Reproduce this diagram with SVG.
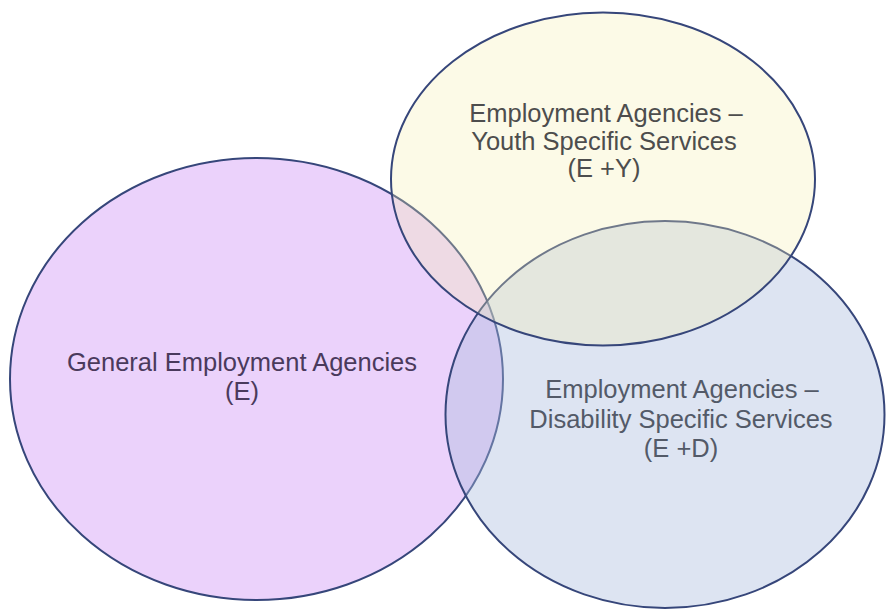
<svg xmlns="http://www.w3.org/2000/svg" width="886" height="610" viewBox="0 0 886 610">
<style>
.ell{stroke:#36467a;stroke-width:2}
.t{font-family:"Liberation Sans",Arial,sans-serif;font-size:25.5px;text-anchor:middle}
</style>
<rect width="886" height="610" fill="#ffffff"/>
<g id="general">
<ellipse class="ell" cx="256.5" cy="379" rx="246.5" ry="221" fill="#ebd2fb"/>
<text class="t" fill="#4a3a5c"><tspan x="242" y="371">General Employment Agencies</tspan><tspan x="242" y="400">(E)</tspan></text>
</g>
<g id="disability">
<ellipse class="ell" cx="665" cy="414.5" rx="219.5" ry="193.5" fill="#aabbde" fill-opacity="0.4"/>
<text class="t" fill="#535a68"><tspan x="682" y="398">Employment Agencies –</tspan><tspan x="681" y="428">Disability Specific Services</tspan><tspan x="681" y="457">(E +D)</tspan></text>
</g>
<g id="youth">
<ellipse class="ell" cx="603" cy="179" rx="212" ry="166.5" fill="#f5eeb0" fill-opacity="0.3"/>
<text class="t" fill="#4d4d4d"><tspan x="606" y="121.5">Employment Agencies –</tspan><tspan x="604" y="149.5">Youth Specific Services</tspan><tspan x="604" y="177">(E +Y)</tspan></text>
</g>
<g id="connectors"/>
</svg>
